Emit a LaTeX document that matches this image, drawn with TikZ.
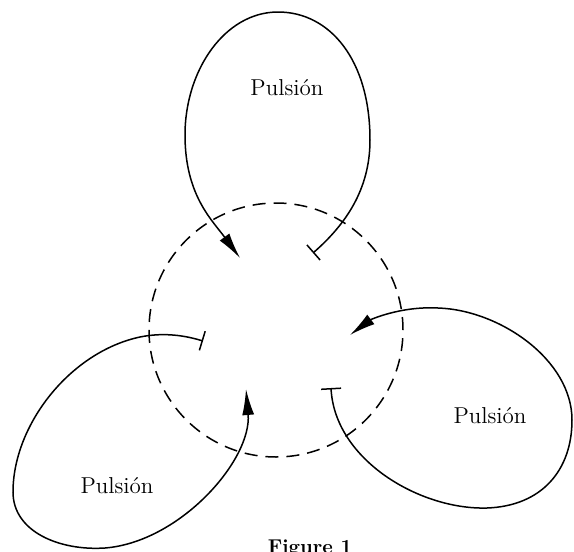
\documentclass[tikz,border=0pt]{standalone}
\usepackage{tikz}
\usetikzlibrary{arrows.meta}

\begin{document}
\begin{tikzpicture}[x=0.5pt,y=-0.5pt]
    \tikzstyle{pulsion}=[font=\fontsize{11.5pt}{13pt}\selectfont,inner sep=1pt]  % texto de cada pulsion
    \tikzstyle{lazo}=[line width=0.75pt,{Bar[width=10pt]}-{Latex[length=13pt,width=6pt]}]  % curva con barra y flecha
    \tikzstyle{borde}=[circle,draw,line width=0.75pt,dash pattern=on 6.5pt off 4pt,minimum size=127pt,inner sep=0pt]
    \tikzstyle{point}=[coordinate]

    \useasboundingbox (0,0) rectangle (574,552);

    % nodos
    \node[borde](centro) at (276,330) {};
    \node[pulsion](pt) at (287,88) {Pulsi\'on};
    \node[pulsion](pl) at (117,486) {Pulsi\'on};
    \node[pulsion](pr) at (490,416) {Pulsi\'on};
    \node[font=\bfseries](fig) at (310,549) {Figure 1};

    % extremos de las curvas
    \node[point](tb) at (313,253) {};
    \node[point](ta) at (240,258) {};
    \node[point](lb) at (203,341) {};
    \node[point](la) at (246,389) {};
    \node[point](rb) at (331,388) {};
    \node[point](ra) at (350,335) {};

    % curvas
    \draw[lazo](tb) .. controls (345,225) and (370,190) .. (370,140)
        .. controls (370,60) and (330,12) .. (278,12)
        .. controls (225,12) and (185,70) .. (185,135)
        .. controls (185,195) and (212,220) .. (ta);
    \draw[lazo](lb) .. controls (180,334) and (160,333) .. (140,337)
        .. controls (70,352) and (13,425) .. (13,492)
        .. controls (13,532) and (60,551) .. (105,548)
        .. controls (180,542) and (252,460) .. (la);
    \draw[lazo](rb) .. controls (335,460) and (420,510) .. (487,508)
        .. controls (542,506) and (572,470) .. (572,420)
        .. controls (572,360) and (500,310) .. (438,308)
        .. controls (400,306) and (370,320) .. (ra);
\end{tikzpicture}
\end{document}
